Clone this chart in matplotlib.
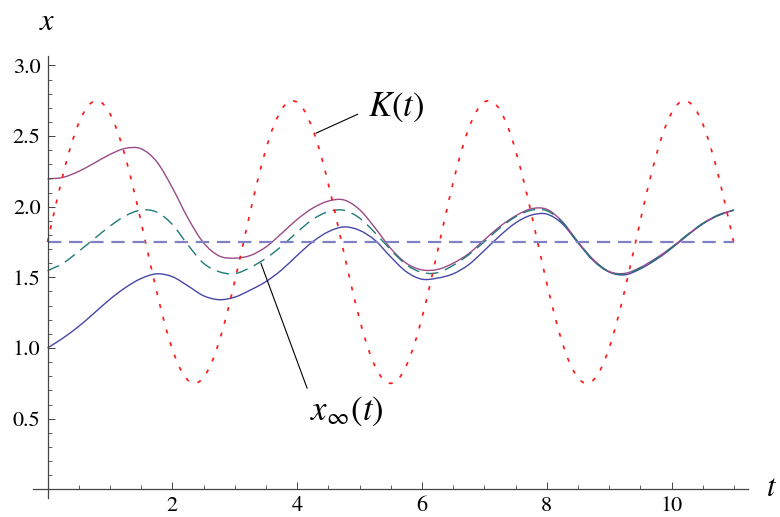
import numpy as np
import matplotlib
matplotlib.use('Agg')
import matplotlib.pyplot as plt
from matplotlib.path import Path
from matplotlib.patches import PathPatch
from matplotlib.ticker import MultipleLocator

plt.rcParams['mathtext.fontset'] = 'stix'
plt.rcParams['font.family'] = ['STIXGeneral', 'Liberation Serif', 'DejaVu Serif']

# tiempos de muestreo (K cada 1/8, soluciones cada 1/4)
t_k = np.linspace(0, 11, 89)
t_x = np.linspace(0, 11, 45)

# capacidad periodica K(t)
k_vals = [1.750, 1.997, 2.229, 2.432, 2.591, 2.699, 2.747, 2.734, 2.659, 2.528,
          2.348, 2.132, 1.891, 1.642, 1.399, 1.178, 0.993, 0.855, 0.772, 0.751,
          0.791, 0.891, 1.045, 1.242, 1.471, 1.717, 1.965, 2.200, 2.407, 2.573,
          2.688, 2.745, 2.739, 2.673, 2.548, 2.375, 2.162, 1.924, 1.675, 1.430,
          1.206, 1.015, 0.870, 0.780, 0.750, 0.782, 0.875, 1.021, 1.213, 1.439,
          1.684, 1.933, 2.170, 2.382, 2.554, 2.676, 2.741, 2.744, 2.685, 2.568,
          2.400, 2.192, 1.957, 1.708, 1.462, 1.234, 1.038, 0.887, 0.789, 0.750,
          0.774, 0.859, 0.999, 1.186, 1.408, 1.651, 1.900, 2.140, 2.356, 2.534,
          2.663, 2.736, 2.747, 2.696, 2.587, 2.425, 2.222, 1.989, 1.741]
k_mean = 1.75

# solucion con x(0) = 2.2
x_high = [2.196, 2.208, 2.250, 2.309, 2.370, 2.413, 2.410, 2.319, 2.135, 1.920,
          1.745, 1.652, 1.636, 1.655, 1.715, 1.810, 1.910, 1.990, 2.040, 2.048,
          1.980, 1.850, 1.705, 1.600, 1.553, 1.556, 1.600, 1.668, 1.765, 1.860,
          1.935, 1.985, 1.982, 1.895, 1.752, 1.625, 1.542, 1.528, 1.570, 1.635,
          1.712, 1.800, 1.882, 1.942, 1.977]
# solucion periodica x_inf(t)
x_inf = [1.547, 1.600, 1.684, 1.774, 1.862, 1.936, 1.976, 1.962, 1.875, 1.730,
         1.600, 1.540, 1.526, 1.570, 1.635, 1.720, 1.820, 1.910, 1.965, 1.975,
         1.920, 1.815, 1.695, 1.590, 1.535, 1.533, 1.585, 1.660, 1.752, 1.850,
         1.928, 1.975, 1.972, 1.890, 1.750, 1.620, 1.540, 1.522, 1.565, 1.630,
         1.710, 1.800, 1.880, 1.940, 1.977]
# solucion con x(0) = 1.0
x_low = [1.000, 1.071, 1.153, 1.248, 1.345, 1.428, 1.492, 1.525, 1.505, 1.440,
         1.370, 1.342, 1.360, 1.410, 1.470, 1.552, 1.655, 1.752, 1.823, 1.857,
         1.833, 1.762, 1.645, 1.540, 1.487, 1.495, 1.525, 1.590, 1.690, 1.795,
         1.885, 1.940, 1.948, 1.880, 1.745, 1.617, 1.538, 1.518, 1.560, 1.625,
         1.705, 1.795, 1.878, 1.938, 1.976]

x_ticks = [2, 4, 6, 8, 10]
x_labels = ['2', '4', '6', '8', '10']
y_ticks = [0.5, 1.0, 1.5, 2.0, 2.5, 3.0]
y_labels = ['0.5', '1.0', '1.5', '2.0', '2.5', '3.0']


def smooth_curve(ax, t, y, **kw):
    # curva suave (Catmull-Rom -> Bezier) que pasa por los puntos medidos
    pts = np.column_stack([t, y])
    ext = np.vstack([2 * pts[0] - pts[1], pts, 2 * pts[-1] - pts[-2]])
    verts = [pts[0]]
    codes = [Path.MOVETO]
    for i in range(len(pts) - 1):
        p0, p1, p2, p3 = ext[i], ext[i + 1], ext[i + 2], ext[i + 3]
        verts += [p1 + (p2 - p0) / 6, p2 - (p3 - p1) / 6, p2]
        codes += [Path.CURVE4] * 3
    patch = PathPatch(Path(verts, codes), facecolor='none', **kw)
    ax.add_patch(patch)
    return patch


fig = plt.figure(figsize=(7.8, 5.17), dpi=100)
ax = fig.add_axes([0.0369, 0.0317, 0.9360, 0.8636])
ax.set_xlim(-0.3, 11.4)
ax.set_ylim(-0.08, 3.08)

ax.plot([t_x[0], t_x[-1]], [k_mean, k_mean], color='#8080c4', lw=1.6,
        dashes=(6, 3.5))
smooth_curve(ax, t_x, x_low, edgecolor='#4646a8', lw=1.0)
smooth_curve(ax, t_x, x_high, edgecolor='#9a4a88', lw=1.0)
smooth_curve(ax, t_x, x_inf, edgecolor='#1f7a78', lw=1.0,
             linestyle=(0, (9, 5)))
smooth_curve(ax, t_k, k_vals, edgecolor='#ff1a1a', lw=1.25,
             linestyle=(0, (2.3, 5.3)))

# ejes cruzando en el origen
for side in ['top', 'right']:
    ax.spines[side].set_visible(False)
ax.spines['left'].set_position(('data', 0))
ax.spines['bottom'].set_position(('data', 0))
ax.spines['left'].set_bounds(-0.06, 3.07)
ax.spines['bottom'].set_bounds(-0.23, 11.22)
for side in ['left', 'bottom']:
    ax.spines[side].set_color('#444444')
    ax.spines[side].set_linewidth(0.9)

ax.set_xticks(x_ticks)
ax.set_xticklabels(x_labels)
ax.set_yticks(y_ticks)
ax.set_yticklabels(y_labels)
ax.xaxis.set_minor_locator(MultipleLocator(0.5))
ax.yaxis.set_minor_locator(MultipleLocator(0.1))
ax.tick_params(which='major', direction='in', length=5, width=0.7,
               color='#444444', labelsize=16, pad=5)
ax.tick_params(which='minor', direction='in', length=3, width=0.6,
               color='#444444')

ax.text(0, 3.30, '$x$', fontsize=22, ha='center', va='center', clip_on=False)
ax.text(11.6, 0.0, '$t$', fontsize=22, ha='center', va='center', clip_on=False)

ax.annotate('$K(t)$', xy=(4.30, 2.52), xytext=(5.59, 2.70), fontsize=25,
            ha='center', va='center',
            arrowprops=dict(arrowstyle='-', color='black', lw=0.8,
                            relpos=(0, 0.45), shrinkA=6, shrinkB=0))
ax.annotate(r'$x_{\infty}(t)$', xy=(3.42, 1.60), xytext=(4.79, 0.55),
            fontsize=25, ha='center', va='center',
            arrowprops=dict(arrowstyle='-', color='black', lw=0.8,
                            relpos=(0, 1), shrinkA=3, shrinkB=0))

fig.savefig('out.png', dpi=100)
